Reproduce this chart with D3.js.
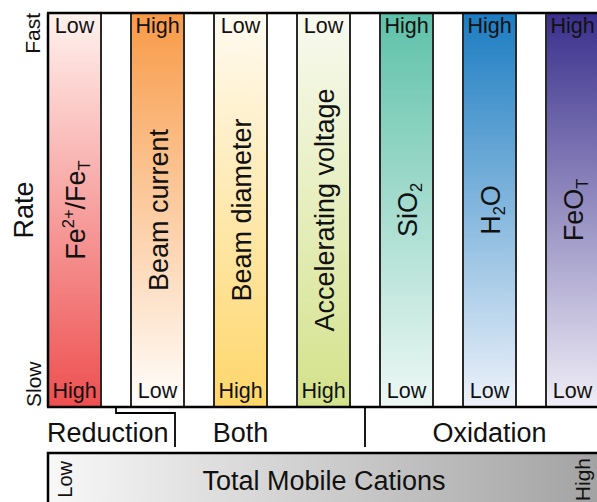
<!DOCTYPE html>
<html>
<head>
<meta charset="utf-8">
<script src="https://cdn.jsdelivr.net/npm/d3@7"></script>
<style>
  html, body { margin: 0; padding: 0; background: #fff; }
  svg { display: block; }
  text { font-family: Arial, "Liberation Sans", sans-serif; fill: #111; }
</style>
</head>
<body>
<svg id="chart" width="597" height="502"></svg>
<script>
// ---- data ----
const categories = ["Fe2+/FeT", "Beam current", "Beam diameter", "Accelerating voltage", "SiO2", "H2O", "FeOT"];
// rich label parts: [text, mode] mode: n normal, sup, sub
const labelParts = [
  [["Fe", "n"], ["2+", "sup"], ["/Fe", "n"], ["T", "sub"]],
  [["Beam current", "n"]],
  [["Beam diameter", "n"]],
  [["Accelerating voltage", "n"]],
  [["SiO", "n"], ["2", "sub"]],
  [["H", "n"], ["2", "sub"], ["O", "n"]],
  [["FeO", "n"], ["T", "sub"]]
];
const topLabels = ["Low", "High", "Low", "Low", "High", "High", "High"];
const bottomLabels = ["High", "Low", "High", "High", "Low", "Low", "Low"];
const topColors = ["#fff2ee", "#f89a47", "#fffbf2", "#f8faf0", "#5ec1a9", "#1b7cc1", "#3a2f8c"];
const bottomColors = ["#ee4f50", "#fffefc", "#fed66a", "#d3e28a", "#eef8f5", "#eef2fa", "#f0eef7"];
const rateLevels = ["Slow", "Fast"];
const groups = ["Reduction", "Both", "Oxidation"];
const cationLabels = ["Low", "Total Mobile Cations", "High"];
const cationColors = ["#f8f8f8", "#a2a2a2"];

// ---- layout ----
const svg = d3.select("#chart");
const plotLeft = 48, plotTop = 13, plotBottom = 407;

const x = d3.scaleBand().domain(d3.range(categories.length))
  .range([plotLeft, plotLeft + 6 * 83 + 53]).paddingInner(30 / 83).paddingOuter(0);
const y = d3.scalePoint().domain(rateLevels).range([plotBottom, plotTop]);

const defs = svg.append("defs");
categories.forEach((c, i) => {
  const g = defs.append("linearGradient").attr("id", "grad" + i)
    .attr("x1", 0).attr("y1", 0).attr("x2", 0).attr("y2", 1);
  g.append("stop").attr("offset", "0%").attr("stop-color", topColors[i]);
  g.append("stop").attr("offset", "100%").attr("stop-color", bottomColors[i]);
});
const cg = defs.append("linearGradient").attr("id", "gradCat")
  .attr("x1", 0).attr("y1", 0).attr("x2", 1).attr("y2", 0);
cg.append("stop").attr("offset", "0%").attr("stop-color", cationColors[0]);
cg.append("stop").attr("offset", "100%").attr("stop-color", cationColors[1]);

// bars
svg.append("g").selectAll("rect").data(categories).join("rect")
  .attr("x", (d, i) => x(i))
  .attr("y", y("Fast"))
  .attr("width", x.bandwidth())
  .attr("height", y("Slow") - y("Fast"))
  .attr("fill", (d, i) => `url(#grad${i})`)
  .attr("stroke", "#2a2a2a")
  .attr("stroke-width", 2);

// frame lines
svg.append("line").attr("x1", plotLeft - 1).attr("x2", 597).attr("y1", plotTop).attr("y2", plotTop)
  .attr("stroke", "#000").attr("stroke-width", 2.5);
svg.append("line").attr("x1", plotLeft - 1).attr("x2", 597).attr("y1", plotBottom).attr("y2", plotBottom)
  .attr("stroke", "#000").attr("stroke-width", 2.5);
svg.append("line").attr("x1", plotLeft).attr("x2", plotLeft).attr("y1", plotTop).attr("y2", plotBottom)
  .attr("stroke", "#000").attr("stroke-width", 2.5);

// top / bottom labels
svg.append("g").selectAll("text").data(topLabels).join("text")
  .attr("x", (d, i) => x(i) + x.bandwidth() / 2)
  .attr("y", plotTop + 20)
  .attr("text-anchor", "middle")
  .attr("font-size", 21.5)
  .text(d => d);
svg.append("g").selectAll("text").data(bottomLabels).join("text")
  .attr("x", (d, i) => x(i) + x.bandwidth() / 2)
  .attr("y", plotBottom - 9)
  .attr("text-anchor", "middle")
  .attr("font-size", 21.5)
  .text(d => d);

// rotated bar titles
const midY = 210;
labelParts.forEach((parts, i) => {
  const cx = x(i) + x.bandwidth() / 2;
  const t = svg.append("text")
    .attr("transform", `translate(${cx + 10},${midY}) rotate(-90)`)
    .attr("text-anchor", "middle")
    .attr("font-size", 27);
  let shift = 0;
  parts.forEach(([s, mode]) => {
    const ts = t.append("tspan").text(s);
    let target = 0;
    if (mode === "sup") { ts.attr("font-size", 16.5); target = -11; }
    else if (mode === "sub") { ts.attr("font-size", 16.5); target = 5; }
    ts.attr("dy", target - shift);
    shift = target;
  });
});

// y axis labels
svg.append("text")
  .attr("transform", `translate(33,${(plotTop + plotBottom) / 2}) rotate(-90)`)
  .attr("text-anchor", "middle").attr("font-size", 27).text("Rate");
svg.append("text")
  .attr("transform", `translate(40,${y("Fast")}) rotate(-90)`)
  .attr("text-anchor", "end").attr("font-size", 21).text(rateLevels[1]);
svg.append("text")
  .attr("transform", `translate(41,${y("Slow")}) rotate(-90)`)
  .attr("text-anchor", "start").attr("font-size", 21).text(rateLevels[0]);

// group brackets
const gap1 = (x(0) + x.bandwidth() + x(1)) / 2;
const gap4 = (x(3) + x.bandwidth() + x(4)) / 2;
svg.append("path")
  .attr("d", `M${gap1},${plotBottom} V413 H${x(1) + 44} V447`)
  .attr("fill", "none").attr("stroke", "#000").attr("stroke-width", 1.8);
svg.append("line").attr("x1", gap4).attr("x2", gap4).attr("y1", plotBottom).attr("y2", 447)
  .attr("stroke", "#000").attr("stroke-width", 1.8);

svg.append("text").attr("x", plotLeft - 1).attr("y", 442)
  .attr("font-size", 27).text(groups[0]);
svg.append("text").attr("x", x(2) + x.bandwidth() / 2).attr("y", 442)
  .attr("text-anchor", "middle").attr("font-size", 27).text(groups[1]);
svg.append("text").attr("x", x(5) + x.bandwidth() / 2).attr("y", 442)
  .attr("text-anchor", "middle").attr("font-size", 27).text(groups[2]);

// total mobile cations box
svg.append("rect").attr("x", plotLeft).attr("y", 453).attr("width", 597 - plotLeft + 5).attr("height", 60)
  .attr("fill", "url(#gradCat)").attr("stroke", "#000").attr("stroke-width", 2.5);
svg.append("text").attr("x", 324).attr("y", 490).attr("text-anchor", "middle")
  .attr("font-size", 27).text(cationLabels[1]);
svg.append("text").attr("transform", "translate(72,461) rotate(-90)")
  .attr("text-anchor", "end").attr("font-size", 20).text(cationLabels[0]);
svg.append("text").attr("transform", "translate(590,458) rotate(-90)")
  .attr("text-anchor", "end").attr("font-size", 21).text(cationLabels[2]);
</script>
</body>
</html>
